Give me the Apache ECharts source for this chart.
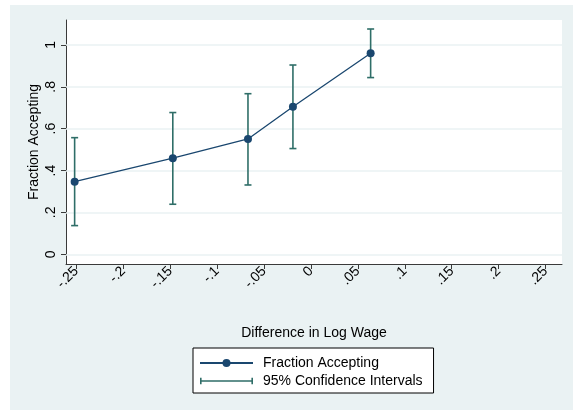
<!DOCTYPE html>
<html>
<head>
<meta charset="utf-8">
<script src="https://cdn.jsdelivr.net/npm/echarts@6/dist/echarts.min.js"></script>
<style>
html,body{margin:0;padding:0;background:#fff;}
#wrap{position:relative;width:573px;height:410px;}
#bg{position:absolute;left:10px;top:5px;right:0;bottom:0;background:#eaf2f3;}
#chart{position:absolute;left:0;top:0;width:573px;height:410px;}
</style>
</head>
<body>
<div id="wrap"><div id="bg"></div><div id="chart"></div></div>
<script>
// ---- data ----
const xVals  = [-0.2518, -0.1472, -0.0671, -0.0192, 0.0636];
const yVals  = [0.347, 0.459, 0.551, 0.705, 0.960];
const ciLow  = [0.137, 0.239, 0.331, 0.505, 0.844];
const ciHigh = [0.557, 0.677, 0.767, 0.904, 1.076];
const xTicks = [-0.25, -0.2, -0.15, -0.1, -0.05, 0, 0.05, 0.1, 0.15, 0.2, 0.25];
const yTicks = [0, 0.2, 0.4, 0.6, 0.8, 1];
const seriesNames = ['Fraction Accepting', '95% Confidence Intervals'];
const xTitle = 'Difference in Log Wage';
const yTitle = 'Fraction Accepting';

// ---- styling ----
const navy = '#1a476f';
const teal = '#2f6e68';
const axisCol = '#3a3a3a';
const font = 'Arial, "Liberation Sans", sans-serif';

function stataFmt(v) {
  let s = String(+Number(v).toFixed(2));
  s = s.replace(/^(-?)0\./, '$1.');
  return s;
}

const chart = echarts.init(document.getElementById('chart'), null, {renderer: 'canvas'});
const option = {
  backgroundColor: 'transparent',
  animation: false,
  textStyle: {fontFamily: font},
  grid: {
    left: 66, top: 20, width: 496, height: 244,
    show: true, backgroundColor: '#ffffff', borderWidth: 0
  },
  xAxis: {
    type: 'value',
    min: -0.261, max: 0.2675,
    name: xTitle,
    nameLocation: 'middle',
    nameGap: 62,
    nameTextStyle: {fontSize: 14, color: '#000', fontFamily: font},
    axisLine: {show: true, onZero: false, lineStyle: {color: axisCol, width: 1}},
    axisTick: {show: true, length: 5, lineStyle: {color: axisCol}, customValues: xTicks},
    axisLabel: {
      show: true, rotate: 45, fontSize: 14, color: '#000', margin: 5,
      customValues: xTicks, formatter: stataFmt, fontFamily: font
    },
    splitLine: {show: false}
  },
  yAxis: {
    type: 'value',
    min: -0.0464, max: 1.119,
    name: yTitle,
    nameLocation: 'middle',
    nameRotate: 90,
    nameGap: 25,
    nameMoveOverlap: false,
    nameTextStyle: {fontSize: 14, color: '#000', fontFamily: font},
    axisLine: {show: true, onZero: false, lineStyle: {color: axisCol, width: 1}},
    axisTick: {show: true, length: 5, lineStyle: {color: axisCol}, customValues: yTicks},
    axisLabel: {
      show: true, rotate: 90, fontSize: 14, color: '#000', margin: 8,
      customValues: yTicks, formatter: stataFmt, fontFamily: font
    },
    splitLine: {show: false}
  },
  legend: {
    orient: 'vertical',
    left: 193, top: 348,
    padding: [8, 11, 5, 6],
    backgroundColor: '#ffffff',
    borderColor: '#000000',
    borderWidth: 1,
    itemWidth: 53, itemHeight: 10,
    itemGap: 4,
    textStyle: {fontSize: 14, color: '#000', fontFamily: font, padding: [0, 0, 0, 5]},
    data: [
      {name: seriesNames[0]},
      {name: seriesNames[1], icon: 'path://M0,0M53,10M0,4.2H53V5.8H0ZM0,1.7H1.6V8.3H0ZM51.4,1.7H53V8.3H51.4Z'}
    ]
  },
  series: [
    {
      name: '_grid',
      type: 'line',
      data: [],
      z: 1,
      silent: true,
      markLine: {
        silent: true,
        z: 1,
        symbol: 'none',
        label: {show: false},
        lineStyle: {color: '#eaf2f3', width: 1.5, type: 'solid'},
        data: yTicks.map(v => ({yAxis: v}))
      }
    },
    {
      name: seriesNames[1],
      type: 'custom',
      z: 3,
      itemStyle: {color: teal},
      encode: {x: 0, y: [1, 2]},
      data: xVals.map((x, i) => [x, ciLow[i], ciHigh[i]]),
      renderItem: function (params, api) {
        const x = api.value(0);
        const pLo = api.coord([x, api.value(1)]);
        const pHi = api.coord([x, api.value(2)]);
        const cap = 3.5;
        const st = {stroke: teal, lineWidth: 1.6, fill: null};
        return {
          type: 'group',
          children: [
            {type: 'line', shape: {x1: pLo[0], y1: pLo[1], x2: pHi[0], y2: pHi[1]}, style: st},
            {type: 'line', shape: {x1: pLo[0] - cap, y1: pLo[1], x2: pLo[0] + cap, y2: pLo[1]}, style: st},
            {type: 'line', shape: {x1: pHi[0] - cap, y1: pHi[1], x2: pHi[0] + cap, y2: pHi[1]}, style: st}
          ]
        };
      }
    },
    {
      name: seriesNames[0],
      type: 'line',
      z: 5,
      data: xVals.map((x, i) => [x, yVals[i]]),
      symbol: 'circle',
      symbolSize: 8,
      lineStyle: {color: navy, width: 1.3},
      itemStyle: {color: navy}
    }
  ]
};
chart.setOption(option);
</script>
</body>
</html>
